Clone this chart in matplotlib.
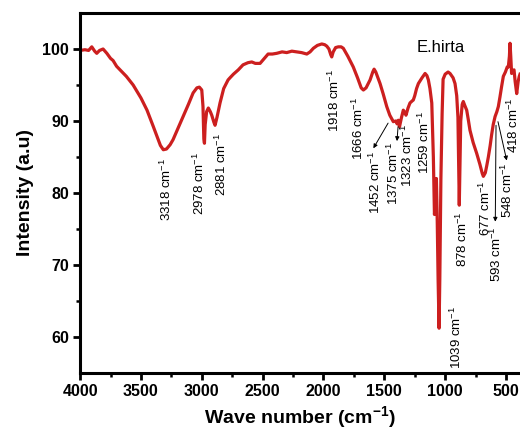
import numpy as np
import matplotlib
matplotlib.use("Agg")
import matplotlib.pyplot as plt

plt.rcParams['font.family'] = ['Liberation Sans', 'DejaVu Sans']
plt.rcParams['mathtext.default'] = 'regular'

# FTIR spectrum of E.hirta
wavenumber = [4000, 3960, 3930, 3904, 3880, 3863, 3840, 3811, 3780, 3750,
              3729, 3700, 3671, 3620, 3564, 3500, 3450, 3400, 3367, 3340,
              3316, 3290, 3260, 3236, 3200, 3154, 3110, 3071, 3040, 3020,
              3000, 2990, 2983, 2978, 2972, 2960, 2946, 2930, 2918, 2900,
              2891, 2875, 2850, 2820, 2784, 2768, 2740, 2700, 2661, 2620,
              2589, 2560, 2521, 2490, 2455, 2420, 2384, 2340, 2302, 2260,
              2220, 2180, 2137, 2110, 2083, 2050, 2014, 1990, 1973, 1955,
              1940, 1932, 1920, 1900, 1878, 1855, 1837, 1800, 1755, 1720,
              1690, 1672, 1650, 1617, 1595, 1584, 1570, 1535, 1510, 1480,
              1455, 1426, 1405, 1395, 1385, 1375, 1360, 1344, 1332, 1322,
              1305, 1289, 1270, 1262, 1250, 1235, 1220, 1190, 1165, 1150,
              1138, 1125, 1110, 1097, 1088, 1080, 1072, 1065, 1058, 1050,
              1044, 1035, 1025, 1017, 1000, 976, 960, 935, 919, 905,
              895, 889, 884, 880, 872, 860, 851, 840, 823, 810,
              796, 770, 741, 715, 695, 686, 670, 658, 645, 630,
              618, 605, 590, 575, 563, 550, 536, 522, 505, 490,
              481, 472, 467, 461, 454, 445, 434, 425, 412, 400,
              391, 385]
intensity = [99.8, 99.9, 99.8, 100.3, 99.7, 99.4, 99.8, 100.0, 99.4, 98.7,
             98.4, 97.6, 97.1, 96.2, 95.0, 93.2, 91.5, 89.3, 87.8, 86.6,
             86.0, 86.1, 86.7, 87.4, 88.8, 90.6, 92.3, 93.9, 94.6, 94.7,
             94.3, 92.0, 87.5, 86.9, 89.5, 91.3, 91.8, 91.3, 90.8, 89.8,
             89.4, 90.5, 92.5, 94.5, 95.7, 96.0, 96.5, 97.1, 97.8, 98.1,
             98.2, 98.0, 98.0, 98.6, 99.3, 99.3, 99.4, 99.6, 99.5, 99.7,
             99.6, 99.5, 99.3, 99.6, 100.1, 100.5, 100.7, 100.6, 100.4, 100.0,
             99.2, 98.9, 99.6, 100.2, 100.3, 100.3, 100.1, 99.0, 97.5, 96.0,
             94.6, 94.3, 94.6, 95.7, 96.8, 97.2, 96.8, 95.2, 93.8, 92.0,
             90.8, 89.9, 90.0, 89.6, 90.1, 89.2, 90.4, 91.5, 91.2, 90.8,
             91.8, 92.5, 92.8, 92.9, 93.5, 94.5, 95.2, 96.0, 96.6, 96.3,
             95.7, 94.5, 92.5, 85.0, 77.0, 78.5, 82.0, 76.0, 68.0, 61.2,
             68.0, 82.0, 91.0, 95.8, 96.5, 96.8, 96.6, 96.0, 95.2, 93.5,
             90.5, 84.0, 78.3, 82.0, 90.0, 92.3, 92.7, 92.2, 91.5, 90.2,
             88.7, 87.0, 85.5, 84.0, 82.7, 82.3, 82.8, 83.8, 85.0, 86.6,
             88.1, 89.5, 90.6, 91.3, 92.0, 93.3, 94.8, 96.2, 96.8, 97.5,
             97.5, 99.0, 100.8, 99.0, 96.6, 97.0, 97.1, 95.5, 93.8, 95.5,
             96.2, 96.5]

# peak labels: text, label x, label top y
peak_labels = ['3318', '2978', '2881', '1918', '1666', '1452', '1375', '1323',
               '1259', '1039', '878', '677', '593', '548', '418']
label_x = [3293, 3022, 2842, 1913, 1716, 1576, 1428, 1313,
           1174, 911, 862, 672, 582, 492, 442]
label_y = [84.9, 85.7, 88.3, 97.2, 93.3, 85.8, 87.1, 89.6,
           91.3, 64.3, 77.5, 81.7, 75.4, 84.3, 93.3]

# arrows from curve to label (start x, start y, end x, end y)
arrows = [(1469, 89.7, 1590, 86.2),
          (1387, 89.2, 1396, 87.2),
          (582, 89.4, 588, 76.0),
          (566, 89.9, 494, 84.5)]

fig = plt.figure(figsize=(5.2, 4.34), dpi=100)
ax = fig.add_axes([0.154, 0.141, 0.846, 0.829])

ax.plot(wavenumber, intensity, color='#cc1f1f', lw=2.3)

for t, x, y in zip(peak_labels, label_x, label_y):
    ax.text(x, y, t + r' cm$^{-1}$', rotation=90, ha='center', va='top',
            fontsize=9.5)

for x0, y0, x1, y1 in arrows:
    ax.annotate('', xy=(x1, y1), xytext=(x0, y0),
                arrowprops=dict(arrowstyle='-|>', lw=0.7, color='black',
                                mutation_scale=6, shrinkA=0, shrinkB=0))

ax.text(1034, 100.2, 'E.hirta', fontsize=12, ha='center', va='center')

ax.set_xlim(4000, 385)
ax.set_ylim(55, 105)
ax.set_xticks([4000, 3500, 3000, 2500, 2000, 1500, 1000, 500])
ax.set_xticks(np.arange(3750, 400, -500), minor=True)
ax.set_yticks([60, 70, 80, 90, 100])
ax.set_yticks([65, 75, 85, 95], minor=True)

for side in ['left', 'bottom', 'top']:
    ax.spines[side].set_linewidth(2.2)
ax.spines['right'].set_visible(False)
ax.tick_params(which='major', direction='out', length=5, width=2,
               labelsize=11.5, top=False, right=False, pad=3)
ax.tick_params(which='minor', direction='out', length=3, width=1.8,
               top=False, right=False)
for lab in ax.get_xticklabels() + ax.get_yticklabels():
    lab.set_fontweight('bold')

ax.set_xlabel(r'Wave number (cm$^{-1}$)', fontsize=14, fontweight='bold',
              labelpad=4)
ax.set_ylabel('Intensity (a.u)', fontsize=14, fontweight='bold', labelpad=6)

fig.savefig('out.png', dpi=100)
